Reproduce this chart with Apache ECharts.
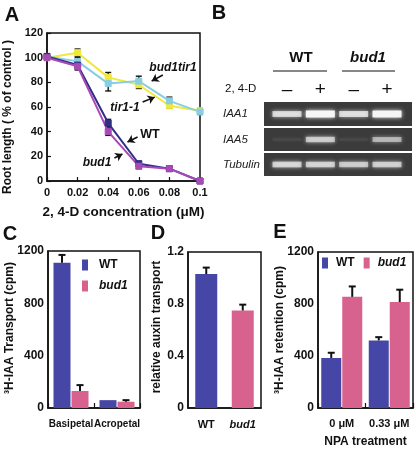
<!DOCTYPE html>
<html><head><meta charset="utf-8">
<script src="https://cdn.jsdelivr.net/npm/echarts@6/dist/echarts.min.js"></script>
<style>html,body{margin:0;padding:0;background:#fff}#c{width:416px;height:450px}</style>
</head><body><div id="c"></div>
<script>
// ---------- Panel A: root length vs 2,4-D ----------
const concentrations = [0, 0.02, 0.04, 0.06, 0.08, 0.1];
const rootWT = [101, 94, 47, 14, 10, 0];
const rootWTErr = [2, 4, 3, 2, 1, 1];
const rootBud1 = [100, 93, 40, 12, 10, 0];
const rootBud1Err = [2, 2, 3, 2, 2, 1];
const rootTir1 = [100, 104, 84, 78, 61, 57];
const rootTir1Err = [2, 3, 4, 3, 2, 2];
const rootBud1Tir1 = [101, 97, 79, 81, 65, 56];
const rootBud1Tir1Err = [2, 3, 6, 4, 3, 2];

// ---------- Panel B: RT-PCR gel ----------
const lanes = [1, 2, 3, 4];
const laneTreatment = ['\u2013', '+', '\u2013', '+'];
const genes = ['IAA1', 'IAA5', 'Tubulin'];
const bandIAA1 = [0.72, 1.0, 0.74, 0.98];
const bandIAA5 = [0.05, 0.62, 0.05, 0.5];
const bandTubulin = [0.68, 0.66, 0.62, 0.64];

// ---------- Panel C: 3H-IAA transport ----------
const transportCats = ['Basipetal', 'Acropetal'];
const transportWT = [1110, 60];
const transportWTErr = [60, 0];
const transportBud1 = [130, 48];
const transportBud1Err = [45, 12];

// ---------- Panel D: relative auxin transport ----------
const relCats = ['WT', 'bud1'];
const relValues = [1.03, 0.75];
const relErr = [0.05, 0.045];

// ---------- Panel E: 3H-IAA retention ----------
const npaCats = ['0 \u03bcM', '0.33 \u03bcM'];
const retentionWT = [385, 520];
const retentionWTErr = [40, 25];
const retentionBud1 = [855, 815];
const retentionBud1Err = [80, 95];

// annotation arrows in panel A (data coords: [tail, head])
const arrowsA = [
  [[0.0757, 86], [0.0684, 81]],
  [[0.0625, 64], [0.0704, 68]],
  [[0.0592, 35.7], [0.0526, 31.6]],
  [[0.0441, 18.6], [0.0493, 21.9]]
];

const FONT = '"Liberation Sans", Arial, Helvetica, sans-serif';
const BLACK = '#111';
const COL_WT = '#4646a6', COL_BUD = '#d8628e';
const LINE_WT = '#2f2f88', LINE_BUD = '#a74ab6', LINE_TIR = '#f0e83a', LINE_BT = '#88cde4';

function pairs(xs, ys) { return xs.map((x, i) => [x, ys[i]]); }
function triples(xs, ys, es) { return xs.map((x, i) => [x, ys[i], es[i]]); }

function errBoth(params, api) {
  const x = api.value(0), y = api.value(1), e = api.value(2);
  const t = api.coord([x, y + e]), b = api.coord([x, y - e]);
  const w = 3, st = { stroke: BLACK, lineWidth: 1.4 };
  return { type: 'group', children: [
    { type: 'line', shape: { x1: t[0], y1: t[1], x2: b[0], y2: b[1] }, style: st },
    { type: 'line', shape: { x1: t[0] - w, y1: t[1], x2: t[0] + w, y2: t[1] }, style: st },
    { type: 'line', shape: { x1: b[0] - w, y1: b[1], x2: b[0] + w, y2: b[1] }, style: st }
  ]};
}
function errUp(offset) {
  return function (params, api) {
    const c = api.value(0), v = api.value(1), e = api.value(2);
    if (!e) return null;
    const p0 = api.coord([c, v]), p1 = api.coord([c, v + e]);
    const x = p0[0] + offset, w = 3.5, st = { stroke: BLACK, lineWidth: 2 };
    return { type: 'group', children: [
      { type: 'line', shape: { x1: x, y1: p0[1], x2: x, y2: p1[1] }, style: st },
      { type: 'line', shape: { x1: x - w, y1: p1[1], x2: x + w, y2: p1[1] }, style: st }
    ]};
  };
}

const frame = { show: true, borderColor: BLACK, borderWidth: 1.5, backgroundColor: 'transparent' };
const gelBg = { show: true, borderWidth: 0, backgroundColor: '#3b3b3b' };
const tickLbl = (size, margin) => ({ fontFamily: FONT, fontWeight: 'bold', fontSize: size, color: BLACK, margin: margin, formatter: v => String(v), interval: 0 });
const line15 = { show: true, lineStyle: { color: BLACK, width: 1.5 } };

function gelX(showLabels) {
  return {
    type: 'value', min: 0.31, max: 4.75,
    axisLine: { show: false }, axisTick: { show: false }, splitLine: { show: false },
    position: 'top',
    axisLabel: showLabels ? {
      show: true, customValues: lanes, margin: 3,
      formatter: v => laneTreatment[Math.round(v) - 1] || '',
      fontFamily: FONT, fontSize: 19, color: BLACK
    } : { show: false }
  };
}
function gelY(name) {
  return {
    type: 'category', data: [name],
    axisLine: { show: false }, axisTick: { show: false }, splitLine: { show: false },
    axisLabel: { show: true, align: 'left', margin: 41, fontFamily: FONT, fontStyle: 'italic', fontSize: 11.5, color: '#222' }
  };
}
function gelSeries(idx, bands) {
  return {
    type: 'scatter', xAxisIndex: idx, yAxisIndex: idx, symbol: 'rect', silent: true,
    data: lanes.map((l, i) => ({
      value: [l, 0],
      symbolSize: [29, 3 + 4 * bands[i]],
      itemStyle: { opacity: bands[i] }
    })),
    itemStyle: { color: '#f6f6f6', shadowBlur: 4, shadowColor: 'rgba(255,255,255,0.9)' }
  };
}

const xA = {
  type: 'value', gridIndex: 0, min: 0, max: 0.1, interval: 0.02,
  axisLine: line15, axisTick: { show: true, inside: true, length: 4, lineStyle: { color: BLACK, width: 1.2 } },
  splitLine: { show: false }, axisLabel: tickLbl(11, 6),
  name: '2, 4-D concentration (\u03bcM)', nameLocation: 'middle', nameGap: 24,
  nameTextStyle: { fontFamily: FONT, fontWeight: 'bold', fontSize: 13.5, color: BLACK }
};
const yA = {
  type: 'value', gridIndex: 0, min: 0, max: 120, interval: 20,
  axisLine: line15, axisTick: { show: true, inside: true, length: 4, lineStyle: { color: BLACK, width: 1.2 } },
  splitLine: { show: false }, axisLabel: tickLbl(11, 4)
};

const xC = {
  type: 'category', gridIndex: 4, data: transportCats,
  axisLine: line15, axisTick: { show: true, inside: true, length: 5, lineStyle: { color: BLACK, width: 1.2 } },
  axisLabel: tickLbl(10, 11)
};
const yC = {
  type: 'value', gridIndex: 4, min: 0, max: 1200, interval: 400,
  axisLine: line15, axisTick: { show: false }, splitLine: { show: false }, axisLabel: tickLbl(12, 4)
};
const xD = {
  type: 'category', gridIndex: 5, data: relCats,
  axisLine: line15, axisTick: { show: false },
  axisLabel: {
    margin: 11, interval: 0, formatter: v => v === 'bud1' ? '{i|' + v + '}' : '{n|' + v + '}',
    rich: {
      i: { fontFamily: FONT, fontWeight: 'bold', fontStyle: 'italic', fontSize: 11, color: BLACK },
      n: { fontFamily: FONT, fontWeight: 'bold', fontSize: 11, color: BLACK }
    }
  }
};
const yD = {
  type: 'value', gridIndex: 5, min: 0, max: 1.2, interval: 0.4,
  axisLine: line15, axisTick: { show: false }, splitLine: { show: false }, axisLabel: tickLbl(12, 4)
};
const xE = {
  type: 'category', gridIndex: 6, data: npaCats,
  axisLine: line15, axisTick: { show: true, inside: true, length: 5, lineStyle: { color: BLACK, width: 1.2 } },
  axisLabel: tickLbl(11, 10),
  name: 'NPA treatment', nameLocation: 'middle', nameGap: 28,
  nameTextStyle: { fontFamily: FONT, fontWeight: 'bold', fontSize: 12, color: BLACK }
};
const yE = {
  type: 'value', gridIndex: 6, min: 0, max: 1200, interval: 400,
  axisLine: line15, axisTick: { show: false }, splitLine: { show: false }, axisLabel: tickLbl(12, 4)
};

const gx1 = gelX(true); gx1.gridIndex = 1;
const gx2 = gelX(false); gx2.gridIndex = 2;
const gx3 = gelX(false); gx3.gridIndex = 3;
const gy1 = gelY(genes[0]); gy1.gridIndex = 1;
const gy2 = gelY(genes[1]); gy2.gridIndex = 2;
const gy3 = gelY(genes[2]); gy3.gridIndex = 3;

function lineSeries(name, ys, color, symbol) {
  return {
    type: 'line', name: name, xAxisIndex: 0, yAxisIndex: 0, z: 3,
    data: pairs(concentrations, ys), symbol: symbol, symbolSize: 6,
    lineStyle: { color: color, width: 2 }, itemStyle: { color: color, borderColor: color, borderWidth: 1 }
  };
}
function errSeries(ys, es) {
  return { type: 'custom', xAxisIndex: 0, yAxisIndex: 0, z: 2, silent: true,
    renderItem: errBoth, data: triples(concentrations, ys, es) };
}

const rootWTLine = lineSeries('root WT', rootWT, LINE_WT, 'rect');
rootWTLine.markLine = {
  silent: true, symbol: ['none', 'arrow'], symbolSize: 7, animation: false,
  lineStyle: { color: BLACK, width: 1.6, type: 'solid' }, label: { show: false },
  data: arrowsA.map(a => [{ coord: a[0] }, { coord: a[1] }])
};

const txt = (x, y, text, font, align) => ({
  type: 'text', x: x, y: y, silent: true,
  style: { text: text, font: font, fill: BLACK, textAlign: align || 'center', textVerticalAlign: 'middle' }
});
const vtxt = (x, y, text, font) => ({
  type: 'text', x: x, y: y, rotation: Math.PI / 2, silent: true,
  style: { text: text, font: font, fill: BLACK, textAlign: 'center', textVerticalAlign: 'middle' }
});

const legendText = { fontFamily: FONT, fontWeight: 'bold', fontSize: 12, color: BLACK };

const option = {
  animation: false,
  backgroundColor: '#fff',
  textStyle: { fontFamily: FONT },
  grid: [
    Object.assign({ left: 47, top: 33, width: 153, height: 148 }, frame),
    Object.assign({ left: 264, top: 102, width: 148, height: 24 }, gelBg),
    Object.assign({ left: 264, top: 128, width: 148, height: 23 }, gelBg),
    Object.assign({ left: 264, top: 153, width: 148, height: 23 }, gelBg),
    Object.assign({ left: 48, top: 251, width: 92, height: 157 }, frame),
    Object.assign({ left: 188, top: 252, width: 73, height: 156 }, frame),
    Object.assign({ left: 318, top: 252, width: 95, height: 156 }, frame)
  ],
  xAxis: [xA, gx1, gx2, gx3, xC, xD, xE],
  yAxis: [yA, gy1, gy2, gy3, yC, yD, yE],
  legend: [
    {
      orient: 'vertical', left: 82, top: 259, padding: 0, itemWidth: 6, itemHeight: 11, itemGap: 9, icon: 'rect',
      selectedMode: false,
      data: [{ name: 'WT' }, { name: 'bud1', textStyle: { fontStyle: 'italic' } }],
      textStyle: Object.assign({ padding: [0, 0, 0, 6] }, legendText)
    },
    {
      orient: 'horizontal', left: 322, top: 257, padding: 0, width: 120, itemWidth: 6, itemHeight: 11, itemGap: 9, icon: 'rect',
      selectedMode: false,
      data: [{ name: 'WT' }, { name: 'bud1', textStyle: { fontStyle: 'italic' } }],
      textStyle: Object.assign({ padding: [0, 0, 0, 3] }, legendText)
    }
  ],
  series: [
    // Panel C
    { type: 'bar', name: 'WT', xAxisIndex: 4, yAxisIndex: 4, data: transportWT, barWidth: 17, barGap: '6%', itemStyle: { color: COL_WT } },
    { type: 'bar', name: 'bud1', xAxisIndex: 4, yAxisIndex: 4, data: transportBud1, barWidth: 17, barGap: '6%', itemStyle: { color: COL_BUD } },
    { type: 'custom', xAxisIndex: 4, yAxisIndex: 4, z: 3, silent: true, renderItem: errUp(-9), data: triples([0, 1], transportWT, transportWTErr) },
    { type: 'custom', xAxisIndex: 4, yAxisIndex: 4, z: 3, silent: true, renderItem: errUp(9), data: triples([0, 1], transportBud1, transportBud1Err) },
    // Panel D
    { type: 'bar', name: 'relative', xAxisIndex: 5, yAxisIndex: 5, barWidth: 22,
      data: relValues.map((v, i) => ({ value: v, itemStyle: { color: i === 0 ? COL_WT : COL_BUD } })) },
    { type: 'custom', xAxisIndex: 5, yAxisIndex: 5, z: 3, silent: true, renderItem: errUp(0), data: triples([0, 1], relValues, relErr) },
    // Panel E
    { type: 'bar', name: 'WT', xAxisIndex: 6, yAxisIndex: 6, data: retentionWT, barWidth: 20, barGap: '5%', itemStyle: { color: COL_WT } },
    { type: 'bar', name: 'bud1', xAxisIndex: 6, yAxisIndex: 6, data: retentionBud1, barWidth: 20, barGap: '5%', itemStyle: { color: COL_BUD } },
    { type: 'custom', xAxisIndex: 6, yAxisIndex: 6, z: 3, silent: true, renderItem: errUp(-10.5), data: triples([0, 1], retentionWT, retentionWTErr) },
    { type: 'custom', xAxisIndex: 6, yAxisIndex: 6, z: 3, silent: true, renderItem: errUp(10.5), data: triples([0, 1], retentionBud1, retentionBud1Err) },
    // Panel A
    errSeries(rootTir1, rootTir1Err),
    errSeries(rootBud1Tir1, rootBud1Tir1Err),
    errSeries(rootWT, rootWTErr),
    errSeries(rootBud1, rootBud1Err),
    lineSeries('root tir1-1', rootTir1, LINE_TIR, 'rect'),
    lineSeries('root bud1tir1', rootBud1Tir1, LINE_BT, 'rect'),
    rootWTLine,
    lineSeries('root bud1', rootBud1, LINE_BUD, 'rect'),
    // Panel B
    gelSeries(1, bandIAA1),
    gelSeries(2, bandIAA5),
    gelSeries(3, bandTubulin)
  ],
  graphic: [
    // panel letters
    txt(12, 15, 'A', 'bold 20px ' + FONT),
    txt(219, 13, 'B', 'bold 20px ' + FONT),
    txt(10, 234, 'C', 'bold 20px ' + FONT),
    txt(158, 233, 'D', 'bold 20px ' + FONT),
    txt(280, 232, 'E', 'bold 20px ' + FONT),
    // panel A annotations
    txt(173, 68, 'bud1tir1', 'italic bold 12px ' + FONT),
    txt(125, 108, 'tir1-1', 'italic bold 12px ' + FONT),
    txt(150, 135, 'WT', 'bold 12.5px ' + FONT),
    txt(97, 163, 'bud1', 'italic bold 12px ' + FONT),
    // y titles
    vtxt(8, 117, 'Root length ( % of control )', 'bold 12px ' + FONT),
    vtxt(10, 328, '\u00b3H-IAA Transport (cpm)', 'bold 12px ' + FONT),
    vtxt(157, 327, 'relative auxin transport', 'bold 12px ' + FONT),
    vtxt(280, 330, '\u00b3H-IAA retention (cpm)', 'bold 12px ' + FONT),
    // panel B headers
    txt(301, 58, 'WT', 'bold 15px ' + FONT),
    txt(368, 58, 'bud1', 'italic bold 15px ' + FONT),
    { type: 'line', silent: true, shape: { x1: 273, y1: 71, x2: 327, y2: 71 }, style: { stroke: BLACK, lineWidth: 1 } },
    { type: 'line', silent: true, shape: { x1: 342, y1: 71, x2: 395, y2: 71 }, style: { stroke: BLACK, lineWidth: 1 } },
    txt(225, 89, '2, 4-D', '11.5px ' + FONT, 'left')
  ]
};

const chart = echarts.init(document.getElementById('c'), null, { renderer: 'canvas' });
chart.setOption(option);
</script>
</body></html>
